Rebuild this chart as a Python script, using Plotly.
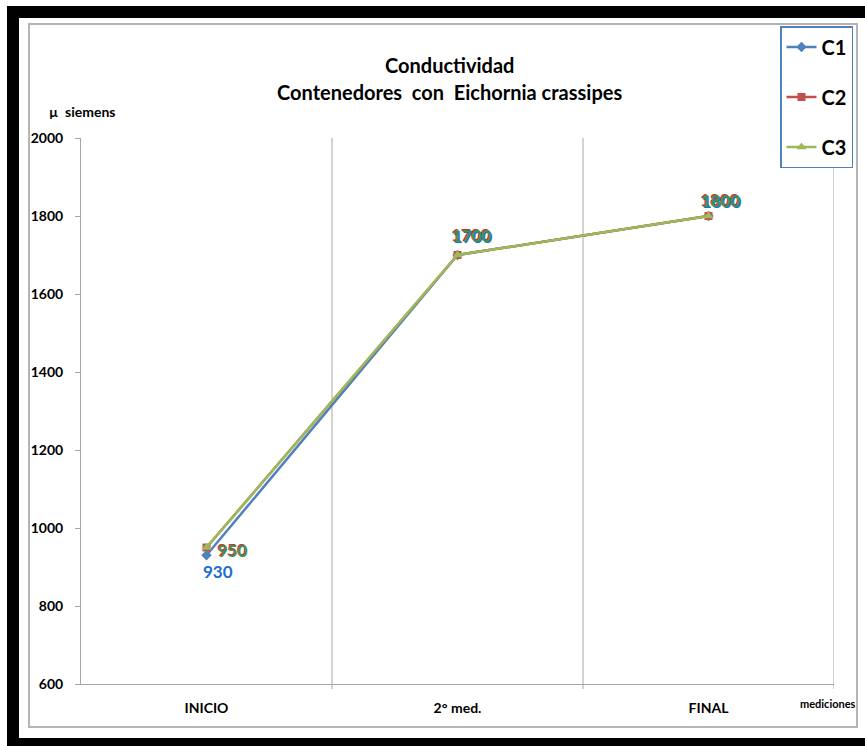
import plotly.graph_objects as go

# Measurements of conductivity (µS) in three containers
categories = ["INICIO", "2° med.", "FINAL"]
series_names = ["C1", "C2", "C3"]
c1_values = [930, 1700, 1800]
c2_values = [950, 1700, 1800]
c3_values = [950, 1700, 1800]
y_ticks = [600, 800, 1000, 1200, 1400, 1600, 1800, 2000]

values = [c1_values, c2_values, c3_values]
line_colors = ["#4F81BD", "#C0504D", "#9BBB59"]
label_colors = ["#1F6FD0", "#D8282C", "#3A9350"]
symbols = ["diamond", "square", "triangle-up"]
marker_sizes = [8, 8, 9]

W, H = 865, 746
L, R, T, B = 81, 834, 138, 684  # plot area in pixels


def px(x):
    return (x - L) / (R - L)


def py(y):
    return (B - y) / (B - T)


FONT = "Lato, Carlito, 'Liberation Sans', sans-serif"

fig = go.Figure()
xs = list(range(len(categories)))
for name, vals, col, sym, ms in zip(series_names, values, line_colors, symbols, marker_sizes):
    fig.add_trace(go.Scatter(
        x=xs, y=vals, name=name, legendgroup=name,
        mode="lines+markers",
        line=dict(color=col, width=2.5),
        marker=dict(symbol=sym, size=ms, color=col),
        hoverinfo="skip",
    ))

# Data labels, drawn per series; coinciding labels are slightly staggered
label_shift = {
    "C1": (1, -1),
    "C2": (-1, 1),
    "C3": (0, 0),
}
draw_order = ["C2", "C1", "C3"]
for name in draw_order:
    i = series_names.index(name)
    dx, dy = label_shift[name]
    for xi, v in zip(xs, values[i]):
        if xi == 0:
            if v < 940:
                ox, oy = 10, -15
            else:
                ox, oy = 26, -3
        elif xi == 1:
            ox, oy = 14, 20
        else:
            ox, oy = 12, 16
        fig.add_annotation(
            x=xi, y=v, xref="x", yref="y", text=str(v), showarrow=False,
            xanchor="center", yanchor="middle",
            xshift=ox + dx, yshift=oy + dy,
            font=dict(family=FONT, size=17, color=label_colors[i], weight="bold"),
        )


def caption(x, y, text, size):
    fig.add_annotation(x=px(x), y=py(y), xref="paper", yref="paper", text=text,
                       showarrow=False, xanchor="center", yanchor="middle",
                       font=dict(family=FONT, size=size, color="black", weight="bold"))


# Titles and axis captions
caption(449, 65, "Conductividad", 20)
caption(449, 92, "Contenedores\u00a0\u00a0con\u00a0\u00a0Eichornia crassipes", 20)
caption(82, 112, "µ\u00a0\u00a0siemens", 14)
caption(828, 703, "mediciones", 11)

# Vertical gridlines at the category boundaries, with short ticks below the axis
for xb in [0.5, 1.5, 2.5]:
    fig.add_shape(type="line", xref="x", yref="paper", x0=xb, x1=xb,
                  y0=py(689), y1=1, line=dict(color="#A6A6A6", width=1), layer="below")

# Outer frame: black bands and the gray chart border
frame = [
    (7, 6, 865, 18),
    (7, 6, 19, 739),
    (7, 738, 865, 746),
]
for x0, y0, x1, y1 in frame:
    fig.add_shape(type="rect", xref="paper", yref="paper",
                  x0=px(x0), x1=px(x1), y0=py(y0), y1=py(y1),
                  line=dict(width=0), fillcolor="black", layer="below")
fig.add_shape(type="rect", xref="paper", yref="paper",
              x0=px(29), x1=px(857), y0=py(24), y1=py(727),
              line=dict(color="#B4B4B4", width=2), fillcolor="rgba(0,0,0,0)", layer="below")

fig.update_layout(
    width=W, height=H, autosize=False,
    margin=dict(l=L, r=W - R, t=T, b=H - B, pad=0, autoexpand=False),
    paper_bgcolor="white", plot_bgcolor="rgba(0,0,0,0)",
    font=dict(family=FONT, color="black"),
    showlegend=True,
    legend=dict(
        x=px(853), y=py(26), xanchor="right", yanchor="top",
        bgcolor="white", bordercolor="#4F81BD", borderwidth=1.5,
        font=dict(family=FONT, size=20, color="black", weight="bold"),
        tracegroupgap=21, itemwidth=30,
    ),
    xaxis=dict(
        range=[-0.5, 2.5], tickmode="array", tickvals=xs, ticktext=categories,
        showgrid=False, zeroline=False, ticks="",
        showline=True, linecolor="#A6A6A6", linewidth=1,
        tickfont=dict(family=FONT, size=14, color="black", weight="bold"),
        ticklabelstandoff=11,
        fixedrange=True,
    ),
    yaxis=dict(
        range=[600, 2000], tickmode="array", tickvals=y_ticks,
        showgrid=False, zeroline=False,
        showline=True, linecolor="#A6A6A6", linewidth=1,
        ticks="outside", ticklen=5, tickcolor="#A6A6A6",
        tickfont=dict(family=FONT, size=14, color="black", weight="bold"),
        ticklabelstandoff=9,
        fixedrange=True,
    ),
)

fig.write_html("out.html", config={"displayModeBar": False})
